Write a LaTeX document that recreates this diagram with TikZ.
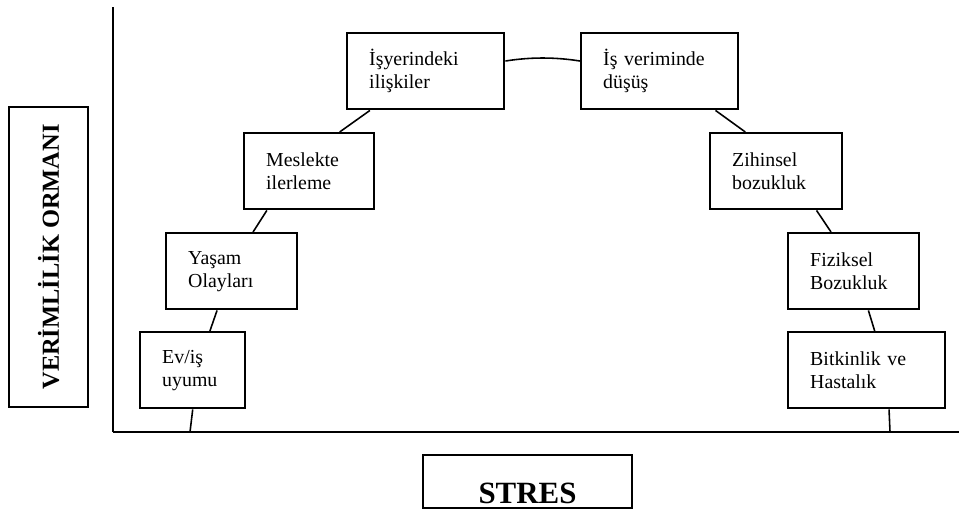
\documentclass[tikz,border=0pt]{standalone}
\usepackage{fontspec}
\setmainfont{Liberation Serif}
\usetikzlibrary{calc}

\begin{document}
\begin{tikzpicture}[
  x=0.02cm, y=-0.02cm,
  axis/.style = {line width=1.1pt},
  link/.style = {line width=0.9pt},
  stage/.style = {draw, line width=1.4pt, anchor=north west, align=left,
    inner xsep=0.44cm, text width=#1, minimum height=1.52cm,
    font=\fontsize{11.3}{13.1}\selectfont},
  title/.style = {draw, line width=1.4pt, font=\bfseries},
]
  \useasboundingbox (0,0) rectangle (959,509);

  % axes
  \coordinate (o) at (113,432);
  \coordinate (ytop) at (113,7);
  \coordinate (xend) at (959,432);
  \coordinate (a1) at (190,432);
  \coordinate (a2) at (890,432);
  \draw[axis, line width=1.6pt] (o) -- (ytop);
  \draw[axis] (o) -- (xend);

  % rising side
  \node[stage=1.22cm] (ev)     at (139,331) {Ev/iş\\uyumu};
  \node[stage=1.74cm] (yasam)  at (165,232) {Yaşam\\Olayları};
  \node[stage=1.72cm] (meslek) at (243,132) {Meslekte\\ilerleme};
  \node[stage=2.26cm] (iliski) at (346,32)  {İşyerindeki\\ilişkiler};

  % falling side
  \node[stage=2.26cm] (verim)  at (580,32)  {İş veriminde\\düşüş};
  \node[stage=1.76cm] (zihin)  at (709,132) {Zihinsel\\bozukluk};
  \node[stage=1.74cm] (fizik)  at (787,232) {Fiziksel\\Bozukluk};
  \node[stage=2.26cm] (bitkin) at (787,331) {Bitkinlik ve\\Hastalık};

  % the curve
  \draw[link] (a1) -- (ev.south);
  \draw[link] ($(ev.north west)!0.66!(ev.north east)$) -- ($(yasam.south west)!0.39!(yasam.south east)$);
  \draw[link] ($(yasam.north west)!0.66!(yasam.north east)$) -- ($(meslek.south west)!0.18!(meslek.south east)$);
  \draw[link] ($(meslek.north west)!0.73!(meslek.north east)$) -- ($(iliski.south west)!0.15!(iliski.south east)$);
  \draw[link] ($(iliski.north east)!0.37!(iliski.south east)$)
    .. controls +(25,-4) and +(-25,-4) .. ($(verim.north west)!0.37!(verim.south west)$);
  \draw[link] ($(verim.south west)!0.85!(verim.south east)$) -- ($(zihin.north west)!0.27!(zihin.north east)$);
  \draw[link] ($(zihin.south west)!0.8!(zihin.south east)$) -- ($(fizik.north west)!0.33!(fizik.north east)$);
  \draw[link] ($(fizik.south west)!0.61!(fizik.south east)$) -- ($(bitkin.north west)!0.55!(bitkin.north east)$);
  \draw[link] ($(bitkin.south west)!0.64!(bitkin.south east)$) -- (a2);

  % axis titles
  \node[title, rotate=90, minimum width=6cm, minimum height=1.58cm,
    font=\bfseries\fontsize{13.9}{16}\selectfont] (verimlilik) at (48.5,257) {VERİMLİLİK ORMANI};
  \node[title, minimum width=4.18cm, minimum height=1.06cm, inner ysep=0pt,
    text height=0.9cm, text depth=0pt,
    font=\bfseries\fontsize{17.6}{20}\selectfont] (stres) at (527.5,481.5) {STRES};
\end{tikzpicture}
\end{document}
